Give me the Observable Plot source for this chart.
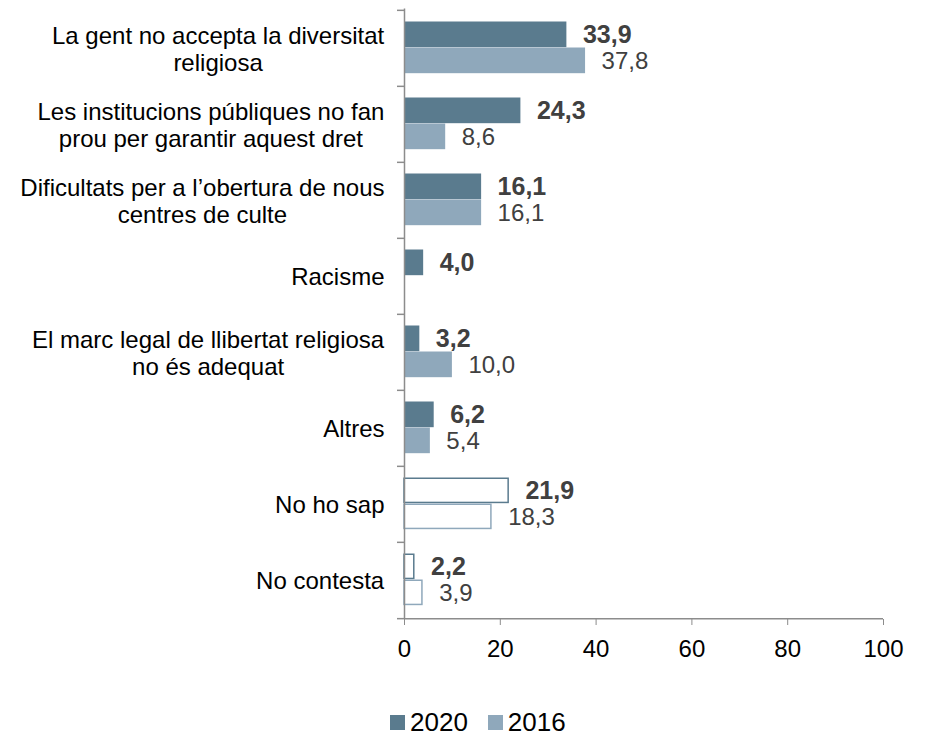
<!DOCTYPE html>
<html>
<head>
<meta charset="utf-8">
<script src="https://cdn.jsdelivr.net/npm/d3@7"></script>
<script src="https://cdn.jsdelivr.net/npm/@observablehq/plot@0.6"></script>
<style>
  html, body { margin: 0; padding: 0; background: #fff; }
  body { width: 926px; height: 737px; position: relative; overflow: hidden; font-family: "Liberation Sans", Arial, sans-serif; }
  #legend { position: absolute; left: 390px; top: 707px; display: flex; align-items: center; font-size: 26px; color: #000; }
  #legend .sw { width: 15px; height: 15px; display: inline-block; margin-right: 5px; }
  #legend .item { display: flex; align-items: center; margin-right: 20px; }
</style>
</head>
<body>
<div id="chart"></div>
<div id="legend"></div>
<script>
// ---- data ----
const categories = [
  "La gent no accepta la diversitat\nreligiosa",
  "Les institucions públiques no fan\nprou per garantir aquest dret",
  "Dificultats per a l’obertura de nous\ncentres de culte",
  "Racisme",
  "El marc legal de llibertat religiosa\nno és adequat",
  "Altres",
  "No ho sap",
  "No contesta"
];
const years = ["2020", "2016"];
const values2020 = [33.9, 24.3, 16.1, 4.0, 3.2, 6.2, 21.9, 2.2];
const values2016 = [37.8, 8.6, 16.1, null, 10.0, 5.4, 18.3, 3.9];
const hollowCategories = ["No ho sap", "No contesta"];
const xTicks = [0, 20, 40, 60, 80, 100];
const colors = ["#5a7b8e", "#8fa8bb"];

// ---- layout ----
const W = 926, H = 690, mt = 8.5, mb = 71, ml = 404, mr = 43;
const band = (H - mt - mb) / categories.length;
const barH = 26, topGap = 11.5;

const rows = [];
categories.forEach((c, i) => {
  rows.push({cat: c, year: "2020", value: values2020[i], hollow: hollowCategories.includes(c)});
  rows.push({cat: c, year: "2016", value: values2016[i], hollow: hollowCategories.includes(c)});
});
const valid = rows.filter(d => d.value != null);
const fmt = v => v.toFixed(1).replace(".", ",");

function barsFor(year, hollow) {
  const k = years.indexOf(year);
  const insetTop = topGap + k * barH;
  const insetBottom = band - insetTop - barH;
  const data = valid.filter(d => d.year === year && d.hollow === hollow);
  return hollow
    ? Plot.barX(data, {y: "cat", x: "value", fill: "white", stroke: colors[k], strokeWidth: 1.5, insetTop: insetTop + 0.75, insetBottom: insetBottom + 0.75, insetRight: 0.75})
    : Plot.barX(data, {y: "cat", x: "value", fill: colors[k], insetTop, insetBottom});
}
function labelsFor(year) {
  const k = years.indexOf(year);
  const center = topGap + k * barH + barH / 2 - band / 2;
  return Plot.text(valid.filter(d => d.year === year), {
    y: "cat", x: "value", text: d => fmt(d.value),
    textAnchor: "start", dx: 16, dy: center,
    fontSize: year === "2020" ? 25 : 24, fontWeight: year === "2020" ? "bold" : "normal",
    fill: "#404040"
  });
}

const chart = Plot.plot({
  width: W, height: H,
  marginTop: mt, marginBottom: mb, marginLeft: ml, marginRight: mr,
  style: {fontFamily: "'Liberation Sans', Arial, sans-serif", background: "#fff", overflow: "visible"},
  x: {domain: [0, 100], axis: null, label: null},
  y: {domain: categories, padding: 0, axis: null},
  marks: [
    barsFor("2020", false), barsFor("2016", false),
    barsFor("2020", true), barsFor("2016", true),
    labelsFor("2020"), labelsFor("2016"),
    // y axis line and boundary ticks
    Plot.ruleX([0], {stroke: "#8c8c8c", strokeWidth: 1.5}),
    Plot.ruleY(categories, {y: d => d, dy: -band / 2, x1: 0, x2: 0, insetLeft: -7, stroke: "#8c8c8c", strokeWidth: 1.5}),
    Plot.ruleY(categories.slice(-1), {y: d => d, dy: band / 2, x1: 0, x2: 0, insetLeft: -7, stroke: "#8c8c8c", strokeWidth: 1.5}),
    // x axis line
    Plot.ruleY(categories.slice(-1), {y: d => d, dy: band / 2, stroke: "#8c8c8c", strokeWidth: 1.5}),
    Plot.axisX({ticks: xTicks, tickSize: 6, tickPadding: 14, fontSize: 24, stroke: "#8c8c8c", fill: "#000", label: null, tickFormat: d => String(d)}),
    // category labels
    Plot.text(categories, {
      y: d => d, text: d => d, frameAnchor: "left", textAnchor: "end", dx: -20,
      lineAnchor: "middle", lineHeight: 1.15, fontSize: 24, fill: "#000"
    })
  ]
});
document.getElementById("chart").appendChild(chart);

// center multi-line category labels within their right-aligned block
const flat = categories.map(c => c.replace(/\n/g, ""));
chart.querySelectorAll("text").forEach(t => {
  if (!flat.includes(t.textContent)) return;
  const w = t.getBBox().width;
  t.setAttribute("text-anchor", "middle");
  const spans = t.querySelectorAll("tspan");
  if (spans.length) spans.forEach(s => s.setAttribute("x", -w / 2));
  else t.setAttribute("x", -w / 2);
});

// legend
const legend = document.getElementById("legend");
years.forEach((y, k) => {
  const item = document.createElement("div");
  item.className = "item";
  item.innerHTML = `<span class="sw" style="background:${colors[k]}"></span><span>${y}</span>`;
  legend.appendChild(item);
});
</script>
</body>
</html>
